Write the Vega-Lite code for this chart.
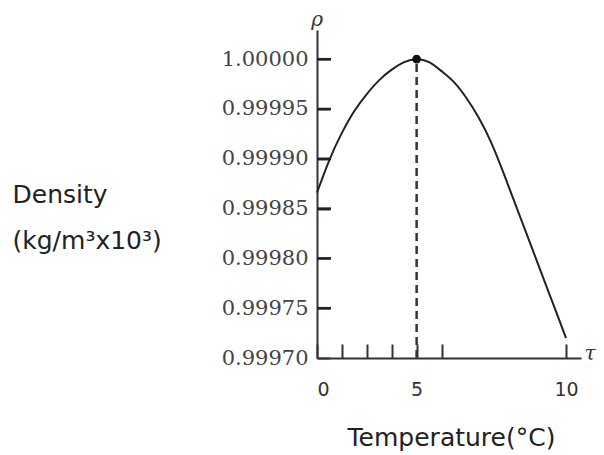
{
  "$schema": "https://vega.github.io/schema/vega-lite/v6.json",
  "autosize": "none",
  "padding": {"left": 317, "top": 30, "right": 23, "bottom": 97},
  "width": 264,
  "height": 328,
  "background": "white",
  "config": {"view": {"stroke": null}, "axis": {"grid": false}},
  "datasets": {
    "curve": [
      {"T": 0, "rho": 0.999866},
      {"T": 0.5, "rho": 0.999899},
      {"T": 1, "rho": 0.999926},
      {"T": 1.5, "rho": 0.999948},
      {"T": 2, "rho": 0.999965},
      {"T": 2.5, "rho": 0.999979},
      {"T": 3, "rho": 0.9999895},
      {"T": 3.5, "rho": 0.999997},
      {"T": 4, "rho": 1.0},
      {"T": 4.5, "rho": 0.999997},
      {"T": 5, "rho": 0.999988},
      {"T": 5.5, "rho": 0.999977},
      {"T": 6, "rho": 0.999961},
      {"T": 6.5, "rho": 0.999941},
      {"T": 7, "rho": 0.999916},
      {"T": 7.5, "rho": 0.999885},
      {"T": 8, "rho": 0.999852},
      {"T": 8.5, "rho": 0.999819},
      {"T": 9, "rho": 0.999786},
      {"T": 9.5, "rho": 0.999753},
      {"T": 10, "rho": 0.99972}
    ],
    "yticks": [
      {"rho": 0.99975, "x0": 0, "x1": 0.56},
      {"rho": 0.9998, "x0": 0, "x1": 0.56},
      {"rho": 0.99985, "x0": 0, "x1": 0.56},
      {"rho": 0.9999, "x0": 0, "x1": 0.56},
      {"rho": 0.99995, "x0": 0, "x1": 0.56},
      {"rho": 1.0, "x0": 0, "x1": 0.56}
    ],
    "peak": [{"T": 4, "rho": 1.0, "base": 0.9997}],
    "symbols": [
      {"T": 0, "rho": 1.0000293, "sym": "ρ", "pos": "top"},
      {"T": 10.6, "rho": 0.9997, "sym": "τ", "pos": "right"}
    ]
  },
  "layer": [
    {
      "data": {"name": "curve"},
      "mark": {"type": "line", "color": "#222", "strokeWidth": 2, "interpolate": "natural"},
      "encoding": {
        "x": {
          "field": "T", "type": "quantitative",
          "scale": {"domain": [0, 10.6], "nice": false, "zero": false},
          "axis": {
            "values": [0, 1, 2, 3, 4, 5, 10],
            "labelExpr": "datum.value == 0 ? '0' : datum.value == 4 ? '5' : datum.value == 10 ? '10' : ''",
            "domainColor": "#333", "domainWidth": 2,
            "tickColor": "#333", "tickWidth": 2, "tickSize": -14,
            "labelFont": "DejaVu Sans", "labelFontSize": 19, "labelColor": "#333",
            "labelPadding": 36, "labelDx": 3,
            "title": "Temperature(°C)",
            "titleFont": "DejaVu Sans", "titleFontSize": 25, "titleFontWeight": "normal", "titleColor": "#222",
            "titleBaseline": "alphabetic", "titleY": 87, "titleX": 134
          }
        },
        "y": {
          "field": "rho", "type": "quantitative",
          "scale": {"domain": [0.9997, 1.0000293], "nice": false, "zero": false},
          "axis": {
            "values": [0.9997, 0.99975, 0.9998, 0.99985, 0.9999, 0.99995, 1.0],
            "format": ".5f",
            "domainColor": "#333", "domainWidth": 2,
            "tickColor": "#333", "tickWidth": 2, "tickSize": -13,
            "labelFont": "DejaVu Serif", "labelFontSize": 21, "labelColor": "#444",
            "labelPadding": 22,
            "title": ["Density", "(kg/m³x10³)"],
            "titleFont": "DejaVu Sans", "titleFontSize": 25, "titleFontWeight": "normal", "titleColor": "#222",
            "titleAngle": 0, "titleAlign": "left", "titleBaseline": "alphabetic",
            "titleLineHeight": 46, "titleX": -305, "titleY": 172
          }
        }
      }
    },
    {
      "data": {"name": "yticks"},
      "mark": {"type": "rule", "color": "#222", "strokeWidth": 2.5},
      "encoding": {
        "x": {"field": "x0", "type": "quantitative"},
        "x2": {"field": "x1"},
        "y": {"field": "rho", "type": "quantitative"}
      }
    },
    {
      "data": {"name": "peak"},
      "mark": {"type": "rule", "color": "#333", "strokeWidth": 2.5, "strokeDash": [8, 5]},
      "encoding": {
        "x": {"field": "T", "type": "quantitative"},
        "y": {"field": "base", "type": "quantitative"},
        "y2": {"field": "rho"}
      }
    },
    {
      "data": {"name": "peak"},
      "mark": {"type": "point", "filled": true, "color": "#111", "size": 75, "opacity": 1},
      "encoding": {
        "x": {"field": "T", "type": "quantitative"},
        "y": {"field": "rho", "type": "quantitative"}
      }
    },
    {
      "data": {"name": "symbols"},
      "transform": [{"filter": "datum.pos == 'top'"}],
      "mark": {"type": "text", "font": "DejaVu Serif", "fontSize": 20, "fontStyle": "italic", "color": "#333", "dy": -10, "dx": 0},
      "encoding": {
        "x": {"field": "T", "type": "quantitative"},
        "y": {"field": "rho", "type": "quantitative"},
        "text": {"field": "sym"}
      }
    },
    {
      "data": {"name": "symbols"},
      "transform": [{"filter": "datum.pos == 'right'"}],
      "mark": {"type": "text", "font": "DejaVu Serif", "fontSize": 20, "fontStyle": "italic", "color": "#333", "dx": 9, "dy": -4},
      "encoding": {
        "x": {"field": "T", "type": "quantitative"},
        "y": {"field": "rho", "type": "quantitative"},
        "text": {"field": "sym"}
      }
    }
  ]
}
